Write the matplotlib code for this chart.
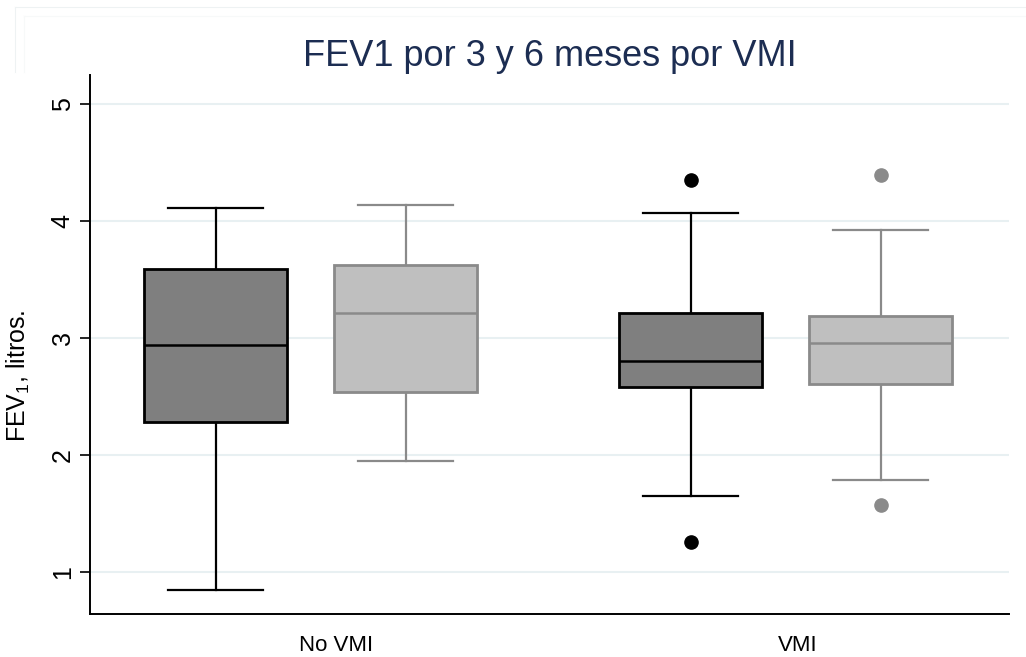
import matplotlib
matplotlib.use("Agg")
import matplotlib.pyplot as plt
from matplotlib.lines import Line2D

plt.rcParams["font.family"] = ["Liberation Sans", "DejaVu Sans"]
plt.rcParams["mathtext.fontset"] = "custom"
plt.rcParams["mathtext.rm"] = "Liberation Sans"

# FEV1 (litres) summaries: No VMI 3m, No VMI 6m, VMI 3m, VMI 6m
groups = ["No VMI", "VMI"]
q1 = [2.28, 2.54, 2.58, 2.61]
med = [2.94, 3.21, 2.80, 2.96]
q3 = [3.59, 3.62, 3.21, 3.19]
whislo = [0.85, 1.95, 1.65, 1.79]
whishi = [4.11, 4.14, 4.07, 3.92]
fliers = [[], [], [4.35, 1.26], [4.39, 1.57]]
yticks = [1, 2, 3, 4, 5]

positions = [0, 1, 2.5, 3.5]
group_pos = [0.63, 3.06]
fills = ["#7f7f7f", "#bfbfbf", "#7f7f7f", "#bfbfbf"]
edges = ["#000000", "#8a8a8a", "#000000", "#8a8a8a"]

W, H = 1026, 657
fig = plt.figure(figsize=(W / 100, H / 100), dpi=100)
fig.patch.set_facecolor("white")

# faint graph-region frame
for (x0, y0, c) in [(15, 7, "#eef2f3"), (24, 16, "#f7f9f9")]:
    fig.add_artist(Line2D([x0 / W, 1], [1 - y0 / H, 1 - y0 / H],
                          transform=fig.transFigure, color=c, lw=0.8))
    fig.add_artist(Line2D([x0 / W, x0 / W], [1 - y0 / H, 1 - 72 / H],
                          transform=fig.transFigure, color=c, lw=0.8))

ax = fig.add_axes([90 / W, 43 / H, (1009 - 90) / W, (614 - 75) / H])
ax.set_facecolor("white")

stats = []
for i in range(4):
    stats.append(dict(med=med[i], q1=q1[i], q3=q3[i], whislo=whislo[i],
                      whishi=whishi[i], fliers=fliers[i]))

bp = ax.bxp(stats, positions=positions, widths=0.753, patch_artist=True,
            showfliers=True, capwidths=0.5)

for i in range(4):
    box = bp["boxes"][i]
    box.set_facecolor(fills[i])
    box.set_edgecolor(edges[i])
    box.set_linewidth(2.0)
    box.set_zorder(3)
    bp["medians"][i].set(color=edges[i], linewidth=1.8, zorder=4)
    for ln in bp["whiskers"][2 * i:2 * i + 2] + bp["caps"][2 * i:2 * i + 2]:
        ln.set(color=edges[i], linewidth=1.6, zorder=2)
    bp["fliers"][i].set(marker="o", markerfacecolor=edges[i],
                        markeredgecolor=edges[i], markersize=9.5,
                        linestyle="none", zorder=4)

ax.set_xlim(-0.663, 4.174)
ax.set_ylim(0.641, 5.248)

ax.set_yticks(yticks)
ax.set_yticklabels([str(t) for t in yticks], rotation=90, va="center",
                   fontsize=18)
ax.tick_params(axis="y", length=7, width=1.2, pad=4, color="black")
ax.yaxis.grid(True, color="#e8f0f2", linewidth=1.5, zorder=0)
ax.set_axisbelow(True)

ax.set_xticks(group_pos)
ax.set_xticklabels(groups, fontsize=16)
ax.tick_params(axis="x", length=0, pad=15)

for s in ["top", "right"]:
    ax.spines[s].set_visible(False)
for s in ["left", "bottom"]:
    ax.spines[s].set_color("black")
    ax.spines[s].set_linewidth(1.4)

fig.text(549.5 / W, 1 - 66 / H, "FEV1 por 3 y 6 meses por VMI",
         ha="center", va="baseline", fontsize=26, color="#1c2d52")
fig.text(18 / W, 1 - 376 / H, r"FEV$_\mathrm{1}$, litros.", rotation=90,
         ha="center", va="center", fontsize=18, color="black")

fig.savefig("out.png", dpi=100, facecolor="white")
